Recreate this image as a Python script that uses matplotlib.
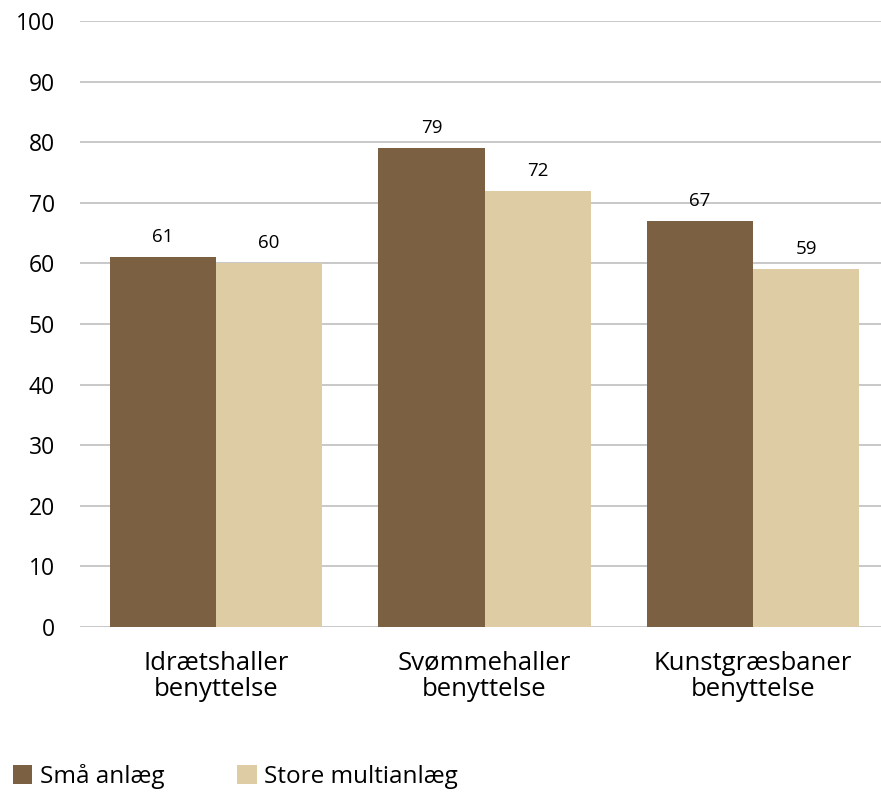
import numpy as np
import matplotlib
matplotlib.use('Agg')
import matplotlib.pyplot as plt

plt.rcParams['font.family'] = ['Open Sans', 'DejaVu Sans']

categories = ['Idrætshaller\nbenyttelse', 'Svømmehaller\nbenyttelse', 'Kunstgræsbaner\nbenyttelse']
small = [61, 79, 67]
large = [60, 72, 59]
series_names = ['Små anlæg', 'Store multianlæg']
colors = ['#7B6042', '#DDCCA4']

fig = plt.figure(figsize=(8.81, 7.94), dpi=100)
ax = fig.add_axes([80/881, 1 - 627/794, 801/881, 606/794])

x = np.arange(len(categories))
w = 0.395
b1 = ax.bar(x - w/2, small, w, color=colors[0], label=series_names[0], zorder=2)
b2 = ax.bar(x + w/2, large, w, color=colors[1], label=series_names[1], zorder=2)

for bars, vals in ((b1, small), (b2, large)):
    for bar, v in zip(bars, vals):
        ax.annotate(str(v), (bar.get_x() + bar.get_width()/2, v),
                    xytext=(0, 8), textcoords='offset points',
                    ha='center', va='bottom', fontsize=13.5)

ax.set_xlim(-0.5065, 2.4767)
ax.set_ylim(0, 100)
ax.set_yticks(range(0, 101, 10))
ax.set_xticks(x)
ax.set_xticklabels(categories, fontsize=18.5, linespacing=1.05)
ax.tick_params(axis='y', labelsize=16.5, length=0, pad=18)
ax.tick_params(axis='x', length=0, pad=17)
ax.grid(axis='y', color='#BFBFBF', linewidth=1.2, zorder=0)
for s in ax.spines.values():
    s.set_visible(False)

fig.legend(loc='center left', bbox_to_anchor=(13/881, 0.022), ncol=2, frameon=False,
           fontsize=17.5, handlelength=0.8, handleheight=0.8, handletextpad=0.3,
           columnspacing=3.0, borderaxespad=0, borderpad=0)

fig.savefig('out.png', dpi=100)
